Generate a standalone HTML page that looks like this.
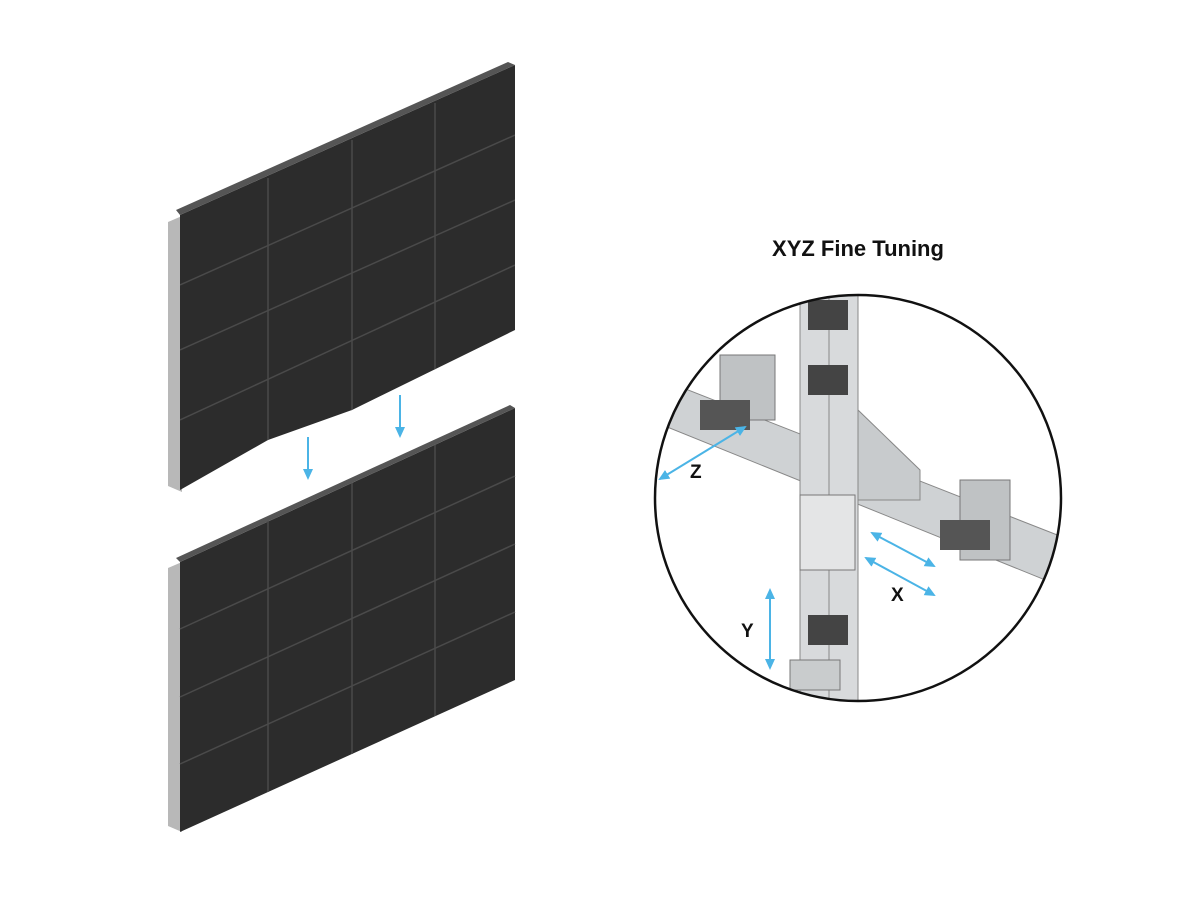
<!DOCTYPE html>
<html><head><style>
html,body{margin:0;padding:0;background:#fff;width:1200px;height:900px;overflow:hidden}
</style></head><body>
<svg width="1200" height="900" viewBox="0 0 1200 900" xmlns="http://www.w3.org/2000/svg">
<defs>
<clipPath id="c"><circle cx="858" cy="498" r="203"/></clipPath>
<clipPath id="tp"><polygon points="180,215 515,65 515,330 352,410 268,440 180,490"/></clipPath>
<marker id="a" markerUnits="userSpaceOnUse" markerWidth="12" markerHeight="12" refX="9" refY="6" orient="auto"><path d="M0,1 L11,6 L0,11 z" fill="#4bb4e6"/></marker>
<marker id="b" markerUnits="userSpaceOnUse" markerWidth="12" markerHeight="12" refX="3" refY="6" orient="auto"><path d="M12,1 L1,6 L12,11 z" fill="#4bb4e6"/></marker>
</defs>
<!-- bottom panel -->
<polygon points="168,568 182,562 182,832 168,826" fill="#b8b8b8"/>
<polygon points="180,562 515,408 515,680 180,832" fill="#2c2c2c"/>
<polygon points="180,562 515,408 510,405 176,558" fill="#555"/>
<g stroke="#4a4a4a" stroke-width="1.5">
<line x1="268" y1="521" x2="268" y2="792"/><line x1="352" y1="483" x2="352" y2="754"/><line x1="435" y1="445" x2="435" y2="716"/>
<line x1="180" y1="629" x2="515" y2="476"/><line x1="180" y1="697" x2="515" y2="544"/><line x1="180" y1="764" x2="515" y2="612"/>
</g>
<!-- top panel -->
<polygon points="168,222 182,216 182,492 168,486" fill="#b8b8b8"/>
<polygon points="180,215 515,65 515,330 352,410 268,440 180,490" fill="#2c2c2c"/>
<polygon points="180,215 515,65 508,62 176,210" fill="#555"/>
<g stroke="#4a4a4a" stroke-width="1.5" clip-path="url(#tp)">
<line x1="268" y1="178" x2="268" y2="455"/><line x1="352" y1="140" x2="352" y2="412"/><line x1="435" y1="103" x2="435" y2="370"/>
<line x1="180" y1="285" x2="515" y2="135"/><line x1="180" y1="350" x2="515" y2="200"/><line x1="180" y1="420" x2="515" y2="265"/>
</g>
<!-- arrows -->
<g stroke="#4bb4e6" stroke-width="2" marker-end="url(#a)">
<line x1="308" y1="437" x2="308" y2="478"/><line x1="400" y1="395" x2="400" y2="436"/>
</g>
<text x="858" y="256" font-family="Liberation Sans, sans-serif" font-weight="bold" font-size="22" text-anchor="middle" fill="#111">XYZ Fine Tuning</text>
<g clip-path="url(#c)">
<rect x="640" y="280" width="440" height="440" fill="#fff"/>
<polygon points="650,375 1070,540 1070,590 650,420" fill="#cfd2d4" stroke="#888"/>
<polygon points="800,280 858,280 858,720 800,720" fill="#d8dadc" stroke="#888"/>
<line x1="829" y1="280" x2="829" y2="720" stroke="#888"/>
<polygon points="858,410 920,470 920,500 858,500" fill="#c8cbcd" stroke="#888"/>
<rect x="800" y="495" width="55" height="75" fill="#e4e5e6" stroke="#777"/>
<polygon points="720,355 775,355 775,420 720,420" fill="#bfc2c4" stroke="#777"/>
<polygon points="960,480 1010,480 1010,560 960,560" fill="#bfc2c4" stroke="#777"/>
<rect x="700" y="400" width="50" height="30" fill="#555"/>
<rect x="940" y="520" width="50" height="30" fill="#555"/>
<rect x="808" y="300" width="40" height="30" fill="#444"/>
<rect x="808" y="365" width="40" height="30" fill="#444"/>
<rect x="808" y="615" width="40" height="30" fill="#444"/>
<polygon points="790,660 840,660 840,690 790,690" fill="#c9cccd" stroke="#777"/>
</g>
<circle cx="858" cy="498" r="203" fill="none" stroke="#111" stroke-width="2.5"/>
<g stroke="#4bb4e6" stroke-width="2" marker-end="url(#a)" marker-start="url(#b)">
<line x1="745" y1="427" x2="660" y2="479"/>
<line x1="872" y1="533" x2="934" y2="566"/>
<line x1="866" y1="558" x2="934" y2="595"/>
<line x1="770" y1="590" x2="770" y2="668"/>
</g>
<g font-family="Liberation Sans, sans-serif" font-weight="bold" font-size="19" fill="#111">
<text x="690" y="478">Z</text><text x="891" y="601">X</text><text x="741" y="637">Y</text>
</g>
</svg>
</body></html>
